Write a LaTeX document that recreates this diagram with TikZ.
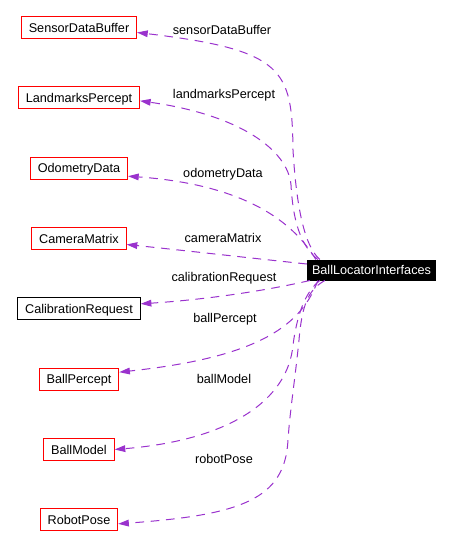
\documentclass[tikz,border=0pt]{standalone}
\usepackage{fontspec}
\setmainfont{Liberation Sans}
\usepackage{tikz}
\usetikzlibrary{arrows.meta}
\usetikzlibrary{positioning}
\usetikzlibrary{calc}
\definecolor{deppurple}{HTML}{9A32CD}
\tikzstyle{cls} = [draw = red, rectangle, line width = 0.75pt, inner xsep = 5.5pt, inner ysep = 0pt, minimum height = 16.5pt, text height = 7pt, text depth = 0pt]
\tikzstyle{nodoc} = [cls, draw = black]
\tikzstyle{focus} = [cls, draw = black, fill = black, text = white, inner xsep = 3.5pt, minimum height = 15pt]
\tikzstyle{dep} = [draw = deppurple, line width = 0.75pt, dash pattern = on 6.5pt off 5pt, -{Triangle[length = 8pt, width = 5pt]}]
\tikzstyle{lbl} = [inner sep = 0pt, text height = 7pt, text depth = 0pt]
\begin{document}
\begin{tikzpicture}[x = 0.75pt, y = -0.75pt, font = \fontsize{9.5}{11}\selectfont]
	\useasboundingbox (0, 0) rectangle (452, 543);
	
		% Used classes
		\node[cls] (sdb) at (79, 27.5) {SensorDataBuffer};
		\node[cls, below = 35.5pt of sdb] (lmp) {LandmarksPercept};
		\node[cls, below = 35.5pt of lmp] (odo) {OdometryData};
		\node[cls, below = 35.5pt of odo] (cam) {CameraMatrix};
		\node[nodoc, below = 35.5pt of cam] (cal) {CalibrationRequest};
		\node[cls, below = 35.5pt of cal] (bp) {BallPercept};
		\node[cls, below = 35.5pt of bp] (bm) {BallModel};
		\node[cls, below = 35.5pt of bm] (rp) {RobotPose};
		
		% The class itself
		\node[focus] (bli) at (371.5, 270) {BallLocatorInterfaces};
		
		% Member names
		\node[lbl] (lsdb) at (222, 30) {sensorDataBuffer};
		\node[lbl] (llmp) at (224, 94) {landmarksPercept};
		\node[lbl] (lodo) at (223, 173) {odometryData};
		\node[lbl] (lcam) at (223, 238) {cameraMatrix};
		\node[lbl] (lcal) at (224, 277) {calibrationRequest};
		\node[lbl] (lbp) at (225, 318) {ballPercept};
		\node[lbl] (lbm) at (224, 379) {ballModel};
		\node[lbl] (lrp) at (224, 459) {robotPose};
		
		% Usage edges
		\draw[dep] ($(bli.north west) + (13, 0)$) .. controls (303, 245) and (296, 200) .. (293, 150)
		.. controls (292, 70) and (285, 50) .. ($(sdb.east) + (0, 5)$);
		\draw[dep] ($(bli.north west) + (11, 0)$) .. controls (300, 245) and (293, 220) .. (291, 185)
		.. controls (288, 150) and (240, 115) .. ($(lmp.east) + (0, 3)$);
		\draw[dep] ($(bli.north west) + (9, 0)$) .. controls (295, 225) and (250, 185) .. ($(odo.east) + (0, 8)$);
		\draw[dep] ($(bli.west) + (0, -6)$) .. controls (250, 258) and (180, 250) .. ($(cam.east) + (0, 6)$);
		\draw[dep] ($(bli.south west) + (3, 0)$) .. controls (260, 292) and (200, 300) .. ($(cal.east) + (0, -5)$);
		\draw[dep] ($(bli.south west) + (11, 0)$) .. controls (300, 330) and (250, 358) .. ($(bp.east) + (0, -7)$);
		\draw[dep] ($(bli.south west) + (13, 0)$) .. controls (305, 292) and (297, 315) .. (293, 345)
		.. controls (288, 400) and (230, 440) .. (bm.east);
		\draw[dep] ($(bli.south west) + (18, 0)$) .. controls (308, 290) and (302, 305) .. (299, 340)
		.. controls (295, 380) and (290, 410) .. (288, 440)
		.. controls (285, 500) and (240, 515) .. ($(rp.east) + (0, 4)$);
		
	\end{tikzpicture}
\end{document}
